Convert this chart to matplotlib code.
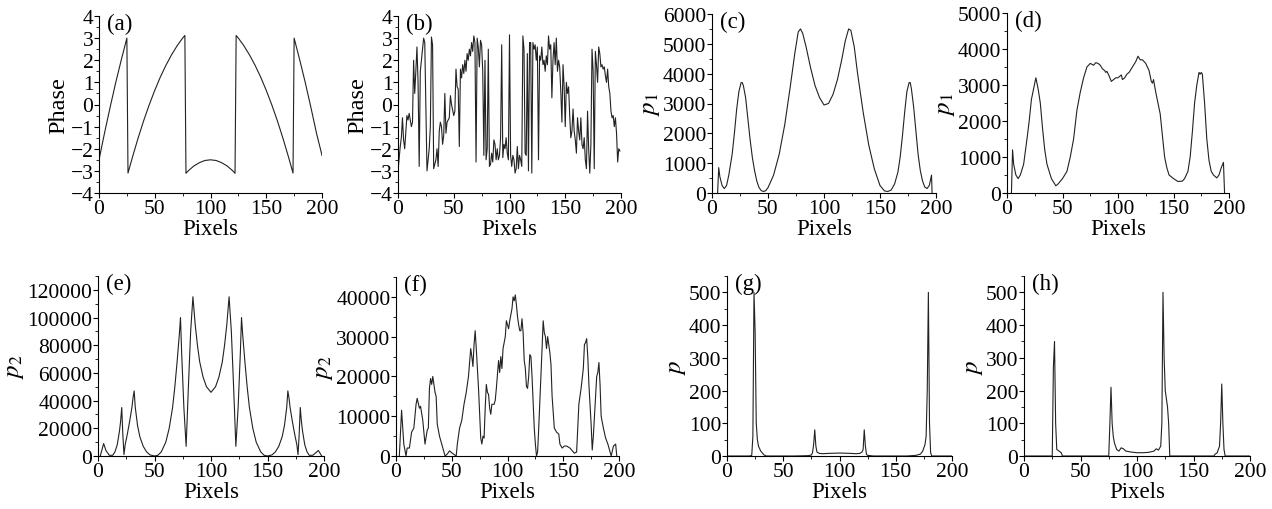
import matplotlib
matplotlib.use("Agg")
import matplotlib.pyplot as plt
from matplotlib.ticker import MultipleLocator

plt.rcParams['font.family'] = ['Liberation Serif', 'DejaVu Serif']
plt.rcParams['mathtext.fontset'] = 'stix'

# ---------------- data ----------------
# (a) wrapped phase
a_x = [0, 5, 10, 15, 20, 25, 26, 30, 35, 40, 45, 50, 55, 60, 65, 70, 75, 77,
       78, 80, 85, 90, 95, 100, 105, 110, 115, 120, 122,
       123, 125, 130, 135, 140, 145, 150, 155, 160, 165, 170, 174,
       175, 180, 185, 190, 195, 200]
a_y = [-2.50, -1.28, -0.12, 0.99, 2.02, 3.00, -3.10, -2.38, -1.53, -0.74, -0.02, 0.64, 1.24, 1.77, 2.24, 2.65, 3.00, 3.12,
       -3.11, -3.00, -2.78, -2.63, -2.53, -2.50, -2.53, -2.63, -2.78, -3.00, -3.11,
       3.12, 3.00, 2.65, 2.24, 1.77, 1.24, 0.64, -0.02, -0.74, -1.53, -2.38, -3.10,
       3.00, 2.02, 0.99, -0.12, -1.28, -2.30]

# (b) noisy phase
b_x = [0, 2, 3, 4, 5, 6, 8, 9, 10, 12, 13, 14, 15, 16, 17, 18, 19, 20, 21, 22, 23, 24, 25, 26, 27, 28, 29,
       30, 31, 32, 33, 34, 35, 36, 37, 38, 39, 40, 41, 42, 43, 44, 46, 47, 48, 50, 51, 52, 53, 54, 55, 56, 57,
       58, 59, 60, 61, 62, 63, 64, 65, 66, 67, 68, 69, 70, 71, 72, 73, 74, 75, 76, 77, 78, 79, 80, 81, 82, 83,
       84, 85, 86, 87, 88, 89, 90, 91, 92, 93, 94, 95, 96, 97, 98, 99, 100, 101, 102, 103, 104, 105, 106, 107,
       108, 109, 110, 111, 112, 113, 114, 115, 116, 117, 118, 119, 120, 121, 122, 123, 124, 125, 126, 127, 128,
       129, 130, 131, 132, 133, 134, 135, 136, 137, 138, 139, 140, 141, 142, 143, 144, 145, 146, 147, 148, 149,
       150, 151, 152, 153, 154, 155, 156, 157, 158, 159, 160, 161, 162, 163, 164, 165, 166, 167, 168, 169, 170,
       171, 172, 173, 174, 175, 176, 177, 178, 179, 180, 181, 182, 183, 184, 185, 186, 187, 188, 189, 190, 191,
       192, 193, 194, 195, 196, 197, 198, 199]
b_y = [-3.0, -1.9, -1.5, -0.6, -1.6, -2.0, -0.5, -0.7, -0.4, -1.0, -0.8, 2.0, 0.5, 1.5, 2.6, 1.0, -2.8, 1.5, 2.0,
       2.5, 3.0, 2.8, 0.0, -3.0, -2.5, -2.0, -1.0,
       3.05, 2.7, -2.9, -2.7, -2.5, -2.0, -2.8, -1.2, -0.8, -1.0, -1.8, -1.4, 0.5, -1.3, -0.8, -0.6, 0.4, 0.0,
       -0.5, -0.3, 1.6, 0.8, 0.7, -1.9, 1.6, 1.2,
       1.8, 1.4, 2.0, 1.5, 2.3, 2.0, 2.5, 2.2, 2.8, 2.4, 3.1, 2.8, -2.6, 3.0, 2.6, 1.7, 2.9, 2.7, 1.5, -2.3, 2.0,
       -2.5, -2.0, 2.5, -2.8, -2.7,
       -2.2, -2.6, -1.6, -1.8, -2.5, -2.0, -2.5, -2.3, -1.5, 2.7, -2.4, -1.8, -2.0, -1.5, -2.2, -2.5, 3.15, -2.3,
       -2.8, -2.3, -2.5, -3.1, -2.9, -1.9,
       -2.9, -2.3, -2.5, -2.8, 3.1, 2.5, -2.2, -2.3, 2.3, -3.0, 2.8, 2.8, -3.1, 2.8, 2.5, 2.7, 2.0, 2.6, -2.5,
       2.2, 2.0,
       2.6, 1.8, 2.0, 1.5, 2.2, 1.8, 3.1, 2.5, 2.7, 0.3, 2.0, 2.8, 1.8, 3.0, 1.5, 2.0, 1.7, 0.6, -0.8, 1.8, 0.8,
       -1.0, 1.0, 0.5, 0.8, -0.5, -1.5, -1.2, -0.2, -1.2, -1.6, -2.2, -0.6, -1.2, -1.6, -0.6, -1.8, -2.0, -1.5,
       -2.5, -2.9, -0.3,
       -2.0, -3.1, -1.8, 2.5, 1.5, -2.9, 2.4, 1.8, 1.0, 2.6, 2.3, 1.7, 1.8, 1.6, 1.7, 1.3, 1.0, 1.6, 0.8, 0.5,
       -0.3,
       -0.6, -0.5, -1.0, -0.6, -1.3, -2.6, -2.0, -2.1]

# (c) p1
c_x = [5, 6, 7, 9, 11, 13, 15, 18, 20, 22, 24, 26, 27, 28, 30, 32, 34, 36, 38, 40, 42, 44, 46, 48, 50, 55,
       60, 65, 70, 74, 77, 79, 81, 84, 88, 92, 96, 100, 104, 108, 112, 116, 119, 122, 124, 127, 130, 135, 140,
       145, 150, 154, 157, 160, 163, 166, 168, 170, 172, 174, 176, 177, 178, 180, 182, 184, 186, 188, 190, 192,
       194, 196, 196.5]
c_y = [0, 850, 550, 250, 150, 250, 600, 1300, 2000, 2800, 3400, 3700, 3700, 3600, 3200, 2500, 1800, 1200, 750,
       400, 180, 80, 50, 80, 180, 600,
       1300, 2300, 3600, 4700, 5400, 5500, 5350, 4900, 4200, 3600, 3200, 2950, 3000, 3300, 3800, 4500, 5100,
       5500, 5450, 4900, 4000, 2700, 1600,
       800, 250, 70, 50, 100, 300, 700, 1200, 1900, 2700, 3400, 3700, 3700, 3500, 2900, 2100, 1300, 750, 400,
       200, 150, 250, 600, 0]

# (d) p1 (noisy)
d_x = [4, 5, 6, 8, 10, 12, 15, 18, 20, 22, 24, 26, 28, 30, 32, 34, 36, 38, 40, 42, 44, 46, 50, 54, 57, 60,
       63, 66, 69, 72, 75, 78, 80, 82, 84, 86, 88, 89, 90, 92, 94, 96, 98, 100, 103, 104, 106, 108, 110, 113,
       116, 118, 120, 122, 125, 128, 130, 131, 132, 134, 136, 138, 140, 142, 144, 146, 150, 154, 158, 160, 163,
       165, 167, 169, 171, 173, 174, 175, 176, 178, 180, 182, 184, 186, 189, 191, 193, 195, 196]
d_y = [0, 1200, 800, 500, 400, 500, 800, 1500, 2000, 2600, 2900, 3200, 2900, 2500, 1800, 1200, 800, 600, 400,
       300, 200, 250, 400, 600, 1000, 1500,
       2300, 2800, 3200, 3500, 3600, 3550, 3620, 3600, 3550, 3450, 3400, 3350, 3380, 3250, 3100, 3150, 3200,
       3200, 3280, 3150, 3200, 3300, 3350, 3500,
       3650, 3800, 3700, 3700, 3600, 3400, 3100, 3050, 3150, 2800, 2500, 2200, 1600, 1000, 700, 500, 400, 320,
       330, 400, 600,
       1000, 1700, 2500, 3000, 3350, 3300, 3350, 3300, 2500, 1500, 900, 600, 500, 420, 500, 700, 850, 0]

# (e) p2
e_x = [2, 5, 7, 10, 13, 15, 17, 19, 20, 21, 22, 23, 24, 26, 28, 30, 31, 32, 33, 35, 37, 40, 43, 46, 50, 53,
       56, 60, 63, 66, 68, 70, 72, 73, 74, 76, 78, 80, 82, 84, 86, 88, 90, 93, 96, 100,
       104, 107, 110, 112, 114, 116, 118, 120, 122, 124, 126, 127, 128, 130, 132, 134, 137, 140, 144, 147, 150,
       154, 157, 160, 163, 165, 167, 168, 169, 170, 172, 174, 176, 177, 178, 179, 180, 181, 183, 185, 187,
       190, 193, 195, 198]
e_y = [0, 9000, 4000, 500, 500, 3000, 8000, 18000, 25000, 35000, 15000, 1000, 8000, 16000, 25000, 35000, 42000,
       47000, 35000, 22000, 14000, 7000, 3000, 800, 0, 500,
       3000, 10000, 20000, 35000, 50000, 68000, 88000, 100000, 75000, 35000, 7000, 50000, 90000, 115000, 95000,
       80000, 68000, 57000, 50000, 46000,
       50000, 57000, 68000, 80000, 95000, 115000, 90000, 50000, 7000, 35000, 75000, 100000, 88000, 68000, 50000,
       35000, 20000, 10000, 3000, 500, 0,
       800, 3000, 7000, 14000, 22000, 35000, 47000, 42000, 35000, 25000, 16000, 8000, 1000, 15000, 35000, 25000,
       18000, 8000, 3000, 500,
       500, 2500, 4000, 0]

# (f) p2 (noisy)
f_x = [3, 5, 7, 9, 10, 12, 14, 16, 18, 19, 21, 22, 24, 26, 28, 29, 30, 31, 32, 33, 35, 36, 37, 39, 41, 42, 44,
       46, 48, 50, 52, 54, 55, 57, 59, 61, 63, 65, 67, 68, 69, 70, 71, 72, 74, 76, 77, 78, 79, 80, 81, 82, 83,
       84, 85, 86, 88, 89, 90, 92, 93, 94, 95, 96, 98, 99, 100, 101, 102, 104, 105, 106, 107, 108, 109, 110,
       111, 112, 113, 114, 115, 116, 117, 118, 119, 120, 121, 122, 124, 125, 126, 127, 128, 130, 131, 132,
       133, 134, 135, 136, 137, 138, 139, 140, 142, 144, 146, 147, 149, 151, 153, 156, 160, 162, 164, 166,
       168, 169, 170, 171, 172, 173, 175, 176, 177, 178, 180, 181, 182, 183, 184, 186, 188, 190, 192, 193,
       195, 197, 198]
f_y = [0, 11500, 3000, 0, 2000, 2000, 6000, 7000, 13000, 14500, 12000, 12500, 9000, 3000, 6500, 7000, 17000,
       19500, 18000, 20000, 16000, 15000, 8000, 5000, 3000, 2000, 0,
       500, 1300, 800, 400, 0, 3000, 7000, 9000, 13000, 16000, 20000, 27000, 25000, 22500, 28000, 31500, 27000,
       17000, 4500, 3000, 5000, 4500, 12000, 18000, 16000, 15500,
       12000, 10500, 13000, 13000, 14000, 17000, 24000, 21000, 25000, 22000, 27000, 30000, 34000, 33000, 32000,
       34000, 37000, 40000, 39000, 40500, 38000, 35000, 33000,
       31500, 31500, 34500, 31000, 24000, 22000, 17500, 17000, 20000, 25500, 25000, 20000, 7000, 3000, 0, 1000,
       7000, 20000, 27000, 34000,
       31000, 30000, 27000, 30000, 28000, 26000, 23000, 15000, 7000, 6000, 5500, 3000, 2000, 2500, 2500, 2000,
       700, 1000, 13000, 17000,
       22000, 28000, 28500, 29500, 25000, 18000, 8000, 1500, 5000, 10000, 20000, 21000, 23500, 18000, 10000,
       7000, 4500, 3000, 1000, 0,
       2500, 3000, 0]

# (g) p
g_x = [0, 20, 22, 23, 24, 25, 26, 27, 28, 30, 33, 35, 60, 72, 75, 76, 77, 78, 79, 80, 82, 85, 90, 100, 110,
       115, 118, 120, 121, 122, 123, 124, 125, 130, 160, 168, 172, 174, 176, 177, 178, 179, 180, 181, 182, 200]
g_y = [0, 0, 2, 60, 500, 380, 100, 50, 30, 15, 3, 0, 0, 1, 3, 10, 35, 80, 30, 12, 8, 7, 8, 9, 8,
       7, 8, 12, 20, 80, 30, 5, 2, 0, 0, 2, 6, 15, 35, 60, 200, 500, 100, 10, 0, 0]

# (h) p
h_x = [0, 25, 26, 27, 28, 29, 31, 33, 34, 60, 75, 76, 77, 78, 79, 80, 82, 84, 86, 88, 90, 95, 100, 105, 110,
       115, 117, 119, 121, 122, 123, 124, 125, 127, 128, 129, 150, 168, 169, 171, 173, 174, 175, 176, 177,
       178, 200]
h_y = [0, 0, 270, 350, 100, 20, 15, 10, 0, 0, 0, 100, 210, 100, 60, 40, 20, 15, 25, 22, 15, 12, 10, 10, 11,
       15, 22, 18, 30, 100, 500, 300, 200, 150, 100, 0, 0, 0, 5, 10, 30, 100, 220, 100, 20,
       0, 0]

# ---------------- layout ----------------
W, H = 1272, 510
fig = plt.figure(figsize=(W / 100, H / 100), dpi=100)


def make_ax(left, right, top, bottom):
    return fig.add_axes([left / W, 1 - bottom / H, (right - left) / W, (bottom - top) / H])


panels = [
    # x, y, label, ylabel, ylim, major, minor, box(left,right,top,bottom)
    (a_x, a_y, '(a)', 'Phase', (-4, 4), 1, 0.5, (99, 322, 17, 194)),
    (b_x, b_y, '(b)', 'Phase', (-4, 4), 1, 0.5, (398, 621, 17, 194)),
    (c_x, c_y, '(c)', r'$p_{\mathrm{1}}$', (0, 6000), 1000, 500, (712, 936, 15, 194)),
    (d_x, d_y, '(d)', r'$p_{\mathrm{1}}$', (0, 5000), 1000, 500, (1007, 1229, 14, 194)),
    (e_x, e_y, '(e)', r'$p_{\mathrm{2}}$', (0, 130000), 20000, 10000, (98, 324, 277, 457)),
    (f_x, f_y, '(f)', r'$p_{\mathrm{2}}$', (0, 45000), 10000, 5000, (396, 619, 278, 457)),
    (g_x, g_y, '(g)', r'$p$', (0, 550), 100, 50, (727, 952, 277, 457)),
    (h_x, h_y, '(h)', r'$p$', (0, 550), 100, 50, (1024, 1250, 277, 457)),
]

for xs, ys, lab, ylab, ylim, maj, mnr, box in panels:
    ax = make_ax(*box)
    ax.plot(xs, ys, color='#222222', lw=0.8)
    ax.set_xlim(0, 200)
    ax.set_ylim(*ylim)
    ax.xaxis.set_major_locator(MultipleLocator(50))
    ax.xaxis.set_minor_locator(MultipleLocator(25))
    ax.yaxis.set_major_locator(MultipleLocator(maj))
    ax.yaxis.set_minor_locator(MultipleLocator(mnr))
    for s in ('top', 'right'):
        ax.spines[s].set_visible(False)
    for s in ('left', 'bottom'):
        ax.spines[s].set_linewidth(0.8)
    ax.tick_params(which='major', direction='out', length=3.5, width=0.8, labelsize=15.5, pad=0.5)
    ax.tick_params(which='minor', direction='out', length=2.2, width=0.6)
    ax.set_xlabel('Pixels', fontsize=16.5, labelpad=0)
    if ylab.startswith('$'):
        ax.set_ylabel(ylab, fontsize=18, labelpad=1)
    else:
        ax.set_ylabel(ylab, fontsize=17.5, labelpad=1)
    ax.text(0.035, 1.02, lab, transform=ax.transAxes, fontsize=16.5, va='top', ha='left')

fig.savefig('out.png', dpi=100)
